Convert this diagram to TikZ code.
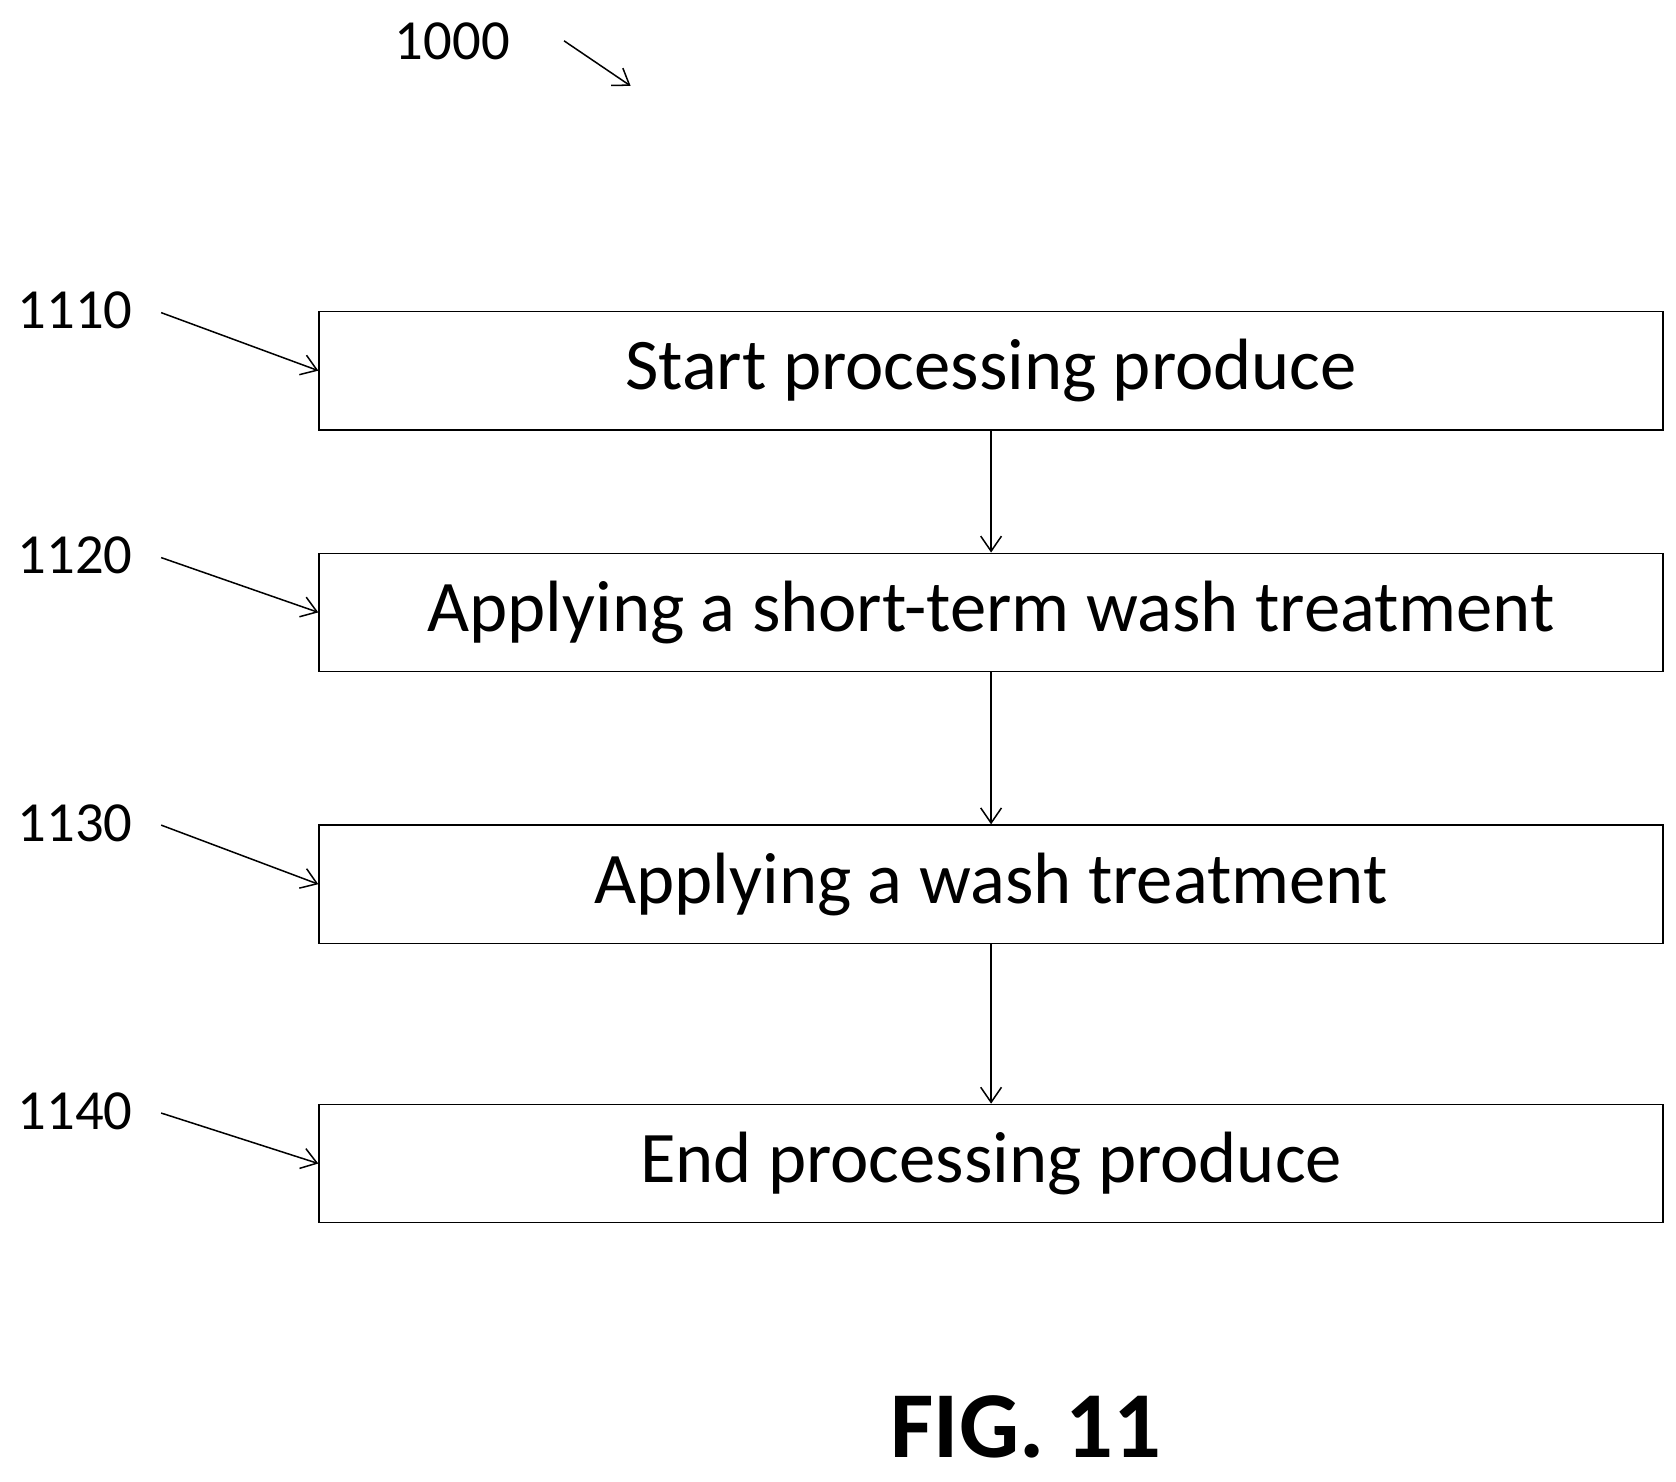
\documentclass[tikz,border=0pt]{standalone}
\usepackage{fontspec}
\setmainfont{Carlito}
\usetikzlibrary{arrows.meta}
\begin{document}
\begin{tikzpicture}[x=0.02cm,y=-0.02cm,
  box/.style={draw,line width=0.8pt,minimum width=1251*0.02cm,minimum height=110*0.02cm,inner sep=0pt,font=\fontsize{38.5}{44}\selectfont},
  lab/.style={font=\fontsize{30}{34}\selectfont},
  arr/.style={-{Straight Barb[length=8pt,width=11pt]},line width=0.8pt}]
\useasboundingbox (0,0) rectangle (1560,1379);
\node[box] (b1) at (922.5,345) {Start processing produce};
\node[box] (b2) at (922.5,570) {Applying a short-term wash treatment};
\node[box] (b3) at (922.5,823) {Applying a wash treatment};
\node[box] (b4) at (922.5,1083) {End processing produce};
\draw[arr] (b1) -- (b2);
\draw[arr] (b2) -- (b3);
\draw[arr] (b3) -- (b4);
\node[lab] (l0) at (421,38) {1000};
\coordinate (c0) at (525,38); \coordinate (d0) at (587,80);
\draw[arr] (c0) -- (d0);
\foreach \n/\y/\t in {1/289/1110,2/517/1120,3/766/1130,4/1034/1140}{
  \node[lab] (l\n) at (70,\y) {\t};
  \coordinate (s\n) at (150,\y+2);
  \draw[arr] (s\n) -- (b\n.west);
}
\node[font=\fontsize{50}{54}\selectfont\bfseries] (fig) at (955,1328) {FIG. 11};
\end{tikzpicture}
\end{document}
